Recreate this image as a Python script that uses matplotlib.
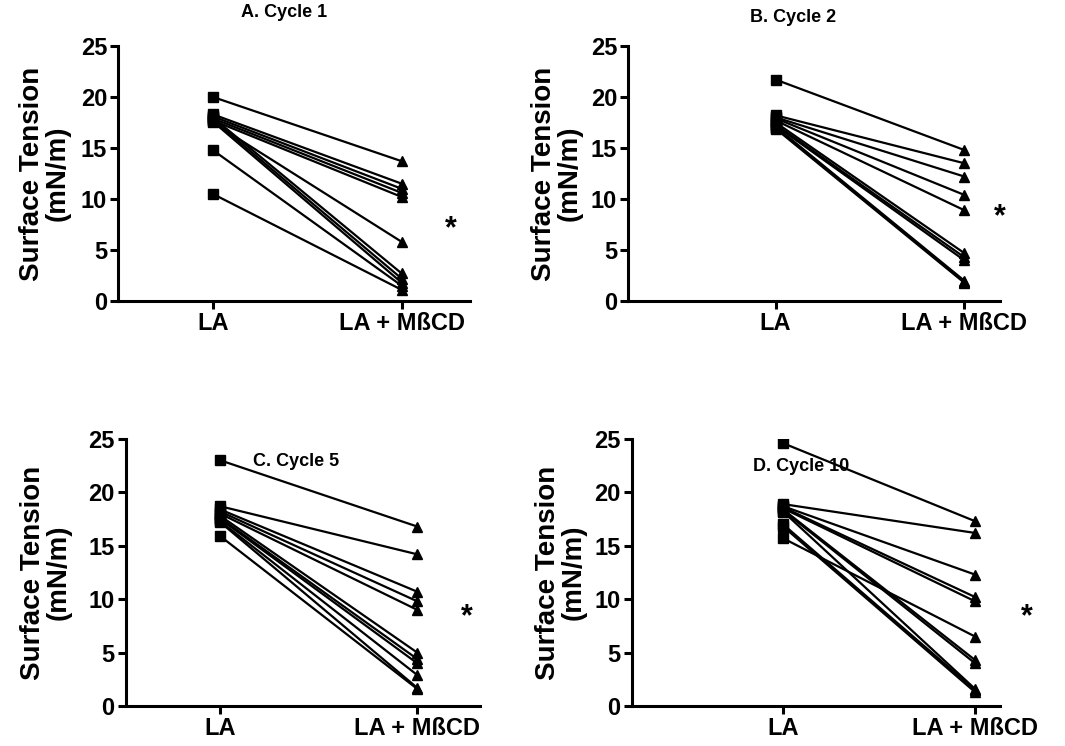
import numpy as np
import matplotlib.pyplot as plt

plt.rcParams['font.family'] = ['Liberation Sans', 'DejaVu Sans']
plt.rcParams['font.weight'] = 'bold'

# ==========================
# Data (surface tension, mN/m), paired LA -> LA + MßCD
# ==========================
groups = ["LA", "LA + MßCD"]

c1_la = [20.0, 18.3, 18.1, 17.9, 17.7, 17.5, 18.0, 17.8, 17.6, 14.8, 10.5]
c1_mbcd = [13.7, 11.5, 11.0, 10.6, 10.2, 5.8, 2.7, 2.2, 1.8, 1.5, 1.1]

c2_la = [21.7, 18.2, 18.0, 17.9, 17.7, 17.5, 17.3, 17.2, 17.1, 17.0, 16.9]
c2_mbcd = [14.8, 13.5, 12.2, 10.4, 8.9, 4.7, 4.3, 4.0, 2.0, 1.9, 1.8]

c5_la = [23.0, 18.7, 18.4, 18.2, 18.0, 17.8, 17.6, 17.5, 17.3, 17.2, 15.9]
c5_mbcd = [16.8, 14.2, 10.7, 9.8, 9.0, 5.0, 4.4, 4.0, 2.9, 1.7, 1.6]

c10_la = [24.6, 18.9, 18.7, 18.6, 18.5, 18.4, 18.3, 18.2, 17.0, 16.8, 15.7]
c10_mbcd = [17.3, 16.2, 12.3, 10.2, 9.8, 4.3, 4.0, 1.6, 1.5, 1.3, 6.5]

titles = ["A. Cycle 1", "B. Cycle 2", "C. Cycle 5", "D. Cycle 10"]

# ==========================
# Layout
# ==========================
W, H = 1065, 746
fig = plt.figure(figsize=(W / 100, H / 100), dpi=100)

data = [(c1_la, c1_mbcd), (c2_la, c2_mbcd), (c5_la, c5_mbcd), (c10_la, c10_mbcd)]
rects = [[0.111, 0.5965, 0.330, 0.342],
         [0.590, 0.5965, 0.349, 0.342],
         [0.118, 0.0536, 0.333, 0.358],
         [0.593, 0.0536, 0.346, 0.358]]
xlims = [(-0.50, 1.36), (-0.78, 1.19), (-0.48, 1.32), (-0.79, 1.13)]
title_pos = [(0.267, 0.983), (0.745, 0.977), (0.278, 0.382), (0.752, 0.374)]
star_pos = [(1.26, 7.0), (1.19, 8.2), (1.25, 8.3), (1.27, 8.3)]
ylabel_x = [45, 557, 46, 561]   # pixel centre of the two-line y label

for (la, mb), rect, xl, spos, lx in zip(data, rects, xlims, star_pos, ylabel_x):
    ax = fig.add_axes(rect)
    for a, b in zip(la, mb):
        ax.plot([0, 1], [a, b], color="black", linewidth=1.6, zorder=2)
    ax.plot(np.zeros(len(la)), la, "s", color="black", markersize=6.5, zorder=3)
    ax.plot(np.ones(len(mb)), mb, "^", color="black", markersize=7.5, zorder=3)

    ax.set_xlim(*xl)
    ax.set_ylim(0, 25)
    ax.set_yticks([0, 5, 10, 15, 20, 25])
    ax.set_xticks([0, 1])
    ax.set_xticklabels(groups, fontsize=17, fontweight="bold")
    for lab in ax.get_yticklabels():
        lab.set_fontsize(17)
        lab.set_fontweight("bold")

    for s in ["top", "right"]:
        ax.spines[s].set_visible(False)
    for s in ["left", "bottom"]:
        ax.spines[s].set_linewidth(2.2)
    ax.tick_params(width=2.2, length=6, direction="out", pad=2)

    ax.text(spos[0], spos[1], "*", fontsize=22, fontweight="bold",
            ha="center", va="center", clip_on=False)

    fig.text(lx / W, rect[1] + rect[3] / 2, "Surface Tension\n(mN/m)",
             fontsize=20, fontweight="bold", rotation=90, ha="center",
             va="center", multialignment="center", linespacing=1.0)

for t, p in zip(titles, title_pos):
    fig.text(p[0], p[1], t, fontsize=13, fontweight="bold", ha="center", va="center")

plt.savefig("out.png", dpi=100)
plt.close()
